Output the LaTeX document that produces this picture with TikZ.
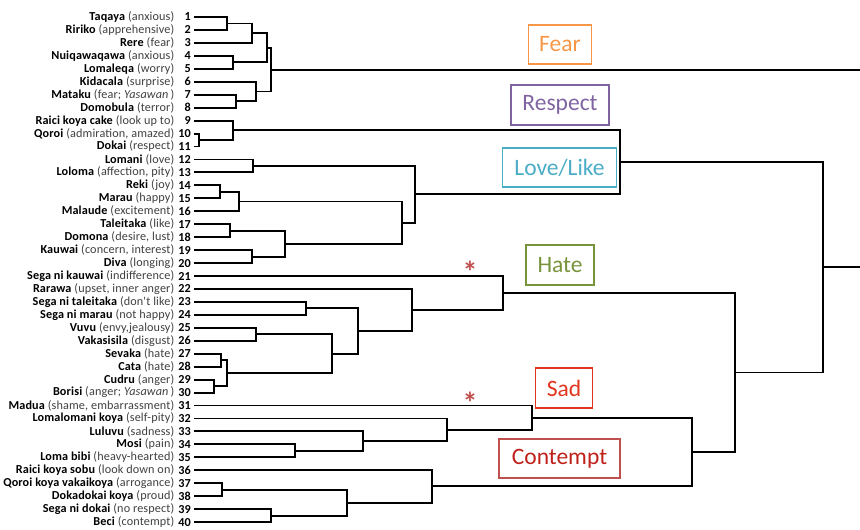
\documentclass[tikz,border=0pt]{standalone}
\usepackage{fontspec}
\setmainfont{Carlito}
\newfontfamily\leaffont[LetterSpace=1]{Carlito}
\usetikzlibrary{calc}
\definecolor{descgray}{HTML}{404040}
\definecolor{cfear}{HTML}{F79646}
\definecolor{cresp}{HTML}{8064A2}
\definecolor{clove}{HTML}{4BACC6}
\definecolor{chate}{HTML}{77933C}
\definecolor{csad}{HTML}{E2351E}
\definecolor{ccontb}{HTML}{C0504D}
\definecolor{cconttext}{HTML}{C0201A}
\definecolor{cstar}{HTML}{C0504D}
\tikzset{
  tree/.style={line width=1.9pt, line join=miter},
  leaflabel/.style={anchor=east, inner sep=0pt, font=\leaffont\fontsize{12.2}{13}\selectfont},
  leafnum/.style={anchor=east, inner sep=0pt, font=\leaffont\fontsize{12.2}{13}\selectfont\bfseries},
  catbox/.style={draw, line width=1.8pt, inner sep=0pt, font=\fontsize{23.5}{26}\selectfont},
  star/.style={text=cstar, inner sep=0pt, font=\fontsize{30}{30}\selectfont\bfseries}
}
\newcommand\mrg[4]{%
  \path let \p1=($(#3)!0.5!(#4)$) in coordinate (#1) at (#2pt,\y1);
  \draw[tree] (#3) -| (#1) |- (#4);}
\begin{document}
\begin{tikzpicture}[x=1pt,y=-1pt]
\useasboundingbox (0,0) rectangle (860,530);
\coordinate (R) at (860,0);
\foreach \n/\d [count=\i] in {
 {Taqaya}/{anxious},
 {Ririko}/{apprehensive},
 {Rere}/{fear},
 {Nuiqawaqawa}/{anxious},
 {Lomaleqa}/{worry},
 {Kidacala}/{surprise},
 {Mataku}/{fear; \textit{Yasawan}\,},
 {Domobula}/{terror},
 {Raici koya cake}/{look up to},
 {Qoroi}/{admiration, amazed},
 {Dokai}/{respect},
 {Lomani}/{love},
 {Loloma}/{affection, pity},
 {Reki}/{joy},
 {Marau}/{happy},
 {Malaude}/{excitement},
 {Taleitaka}/{like},
 {Domona}/{desire, lust},
 {Kauwai}/{concern, interest},
 {Diva}/{longing},
 {Sega ni kauwai}/{indifference},
 {Rarawa}/{upset, inner anger},
 {Sega ni taleitaka}/{don't like},
 {Sega ni marau}/{not happy},
 {Vuvu}/{envy,jealousy},
 {Vakasisila}/{disgust},
 {Sevaka}/{hate},
 {Cata}/{hate},
 {Cudru}/{anger},
 {Borisi}/{anger; \textit{Yasawan}\,},
 {Madua}/{shame, embarrassment},
 {Lomalomani koya}/{self-pity},
 {Luluvu}/{sadness},
 {Mosi}/{pain},
 {Loma bibi}/{heavy-hearted},
 {Raici koya sobu}/{look down on},
 {Qoroi koya vakaikoya}/{arrogance},
 {Dokadokai koya}/{proud},
 {Sega ni dokai}/{no respect},
 {Beci}/{contempt}}{
  \pgfmathsetmacro\yy{17+12.95*(\i-1)}
  \node[leaflabel] (n\i) at (174.5,\yy) {\textbf{\n} \textcolor{descgray}{(\d)}};
  \node[leafnum] (k\i) at (191,\yy) {\i};
  \coordinate (l\i) at (194,\yy);
}
% Fear
\mrg{c1}{226.7}{l1}{l2}
\mrg{c2}{251.7}{c1}{l3}
\mrg{c3}{233.3}{l4}{l5}
\mrg{c4}{267.3}{c2}{c3}
\mrg{c5}{236}{l7}{l8}
\mrg{c6}{256}{l6}{c5}
\mrg{fear}{271}{c4}{c6}
% Respect
\mrg{c7}{199.3}{l10}{l11}
\mrg{resp}{233.3}{l9}{c7}
% Love/Like
\mrg{c8}{252.7}{l12}{l13}
\mrg{c9}{220}{l14}{l15}
\mrg{c10}{239}{c9}{l16}
\mrg{c11}{230}{l17}{l18}
\mrg{c12}{252}{l19}{l20}
\mrg{c13}{285.3}{c11}{c12}
\mrg{c14}{402.3}{c10}{c13}
\mrg{love}{415}{c8}{c14}
\mrg{rl}{620}{resp}{love}
% Hate
\mrg{c15}{305.7}{l23}{l24}
\mrg{c16}{255.7}{l25}{l26}
\mrg{c17}{221}{l27}{l28}
\mrg{c18}{214.3}{l29}{l30}
\mrg{c19}{226.7}{c17}{c18}
\mrg{c20}{331.7}{c16}{c19}
\mrg{c21}{357.7}{c15}{c20}
\mrg{c22}{412.3}{l22}{c21}
\mrg{hate}{503.3}{l21}{c22}
% Sad
\mrg{c23}{295}{l34}{l35}
\mrg{c24}{363.3}{l33}{c23}
\mrg{c25}{446.7}{l32}{c24}
\mrg{sad}{531.7}{l31}{c25}
% Contempt
\mrg{c26}{222.3}{l37}{l38}
\mrg{c27}{271}{l39}{l40}
\mrg{c28}{346.7}{c26}{c27}
\mrg{cont}{431.7}{l36}{c28}
\mrg{sc}{691.7}{sad}{cont}
\mrg{hsc}{735}{hate}{sc}
\mrg{top}{822.7}{rl}{hsc}
\draw[tree] (fear) -- (fear -| R);
\draw[tree] (top) -- (top -| R);
% category boxes
\node[catbox, draw=cfear, text=cfear, minimum width=63pt, minimum height=39pt] (bfear) at (560,44.5) {Fear};
\node[catbox, draw=cresp, text=cresp, minimum width=98pt, minimum height=40pt] (bresp) at (560,105) {Respect};
\node[catbox, draw=clove, text=clove, minimum width=114pt, minimum height=39pt] (blove) at (559.5,167.8) {Love/Like};
\node[catbox, draw=chate, text=chate, minimum width=68pt, minimum height=40pt] (bhate) at (560,265) {Hate};
\node[catbox, draw=csad, text=csad, minimum width=57pt, minimum height=40pt] (bsad) at (564,388.3) {Sad};
\node[catbox, draw=ccontb, text=cconttext, minimum width=121pt, minimum height=39pt] (bcont) at (559.5,458.3) {Contempt};
% asterisks
\node[star] (s1) at (470,272) {*};
\node[star] (s2) at (470,403) {*};
\end{tikzpicture}
\end{document}
